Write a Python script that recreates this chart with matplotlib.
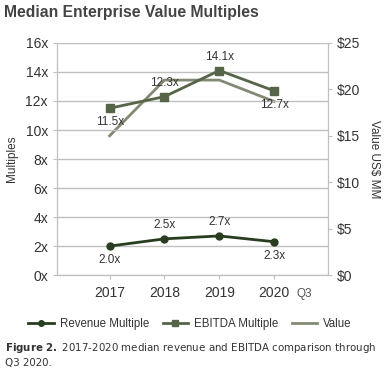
import matplotlib.pyplot as plt
from matplotlib.ticker import FuncFormatter

plt.rcParams["font.family"] = ["Liberation Sans", "DejaVu Sans"]

years = ["2017", "2018", "2019", "2020"]
revenue_multiple = [2.0, 2.5, 2.7, 2.3]
ebitda_multiple = [11.5, 12.3, 14.1, 12.7]
value_mm = [15.0, 21.0, 21.0, 18.7]
revenue_pos = ["below", "above", "above", "below"]
ebitda_pos = ["below", "above", "above", "below"]

c_rev = "#283d20"
c_ebitda = "#566447"
c_value = "#828a74"
c_text = "#333333"
c_grid = "#c0c0c0"

fig = plt.figure(figsize=(3.9, 3.8), dpi=100)
ax = fig.add_axes([0.146, 0.276, 0.695, 0.611])
ax2 = ax.twinx()

x = list(range(len(years)))
ax.plot(x, revenue_multiple, color=c_rev, marker="o", markersize=5, lw=2, zorder=4)
ax.plot(x, ebitda_multiple, color=c_ebitda, marker="s", markersize=6, lw=2, zorder=4)
ax2.plot(x, value_mm, color=c_value, lw=2)
ax.set_zorder(ax2.get_zorder() + 1)
ax.patch.set_visible(False)

for series, pos in ((revenue_multiple, revenue_pos), (ebitda_multiple, ebitda_pos)):
    for xi, v, p in zip(x, series, pos):
        dy = 10 if p == "above" else -10
        ax.annotate(f"{v:.1f}x", (xi, v), xytext=(0, dy), textcoords="offset points",
                    ha="center", va="center", fontsize=8.5, color=c_text)

ax.set_xlim(-0.96, 3.98)
ax.set_ylim(0, 16)
ax.set_yticks(range(0, 17, 2))
ax.yaxis.set_major_formatter(FuncFormatter(lambda v, _: f"{v:.0f}x"))
ax2.set_ylim(0, 25)
ax2.set_yticks(range(0, 26, 5))
ax2.yaxis.set_major_formatter(FuncFormatter(lambda v, _: f"${v:.0f}"))
ax.set_xticks(x)
ax.set_xticklabels(years)

ax.grid(axis="y", color=c_grid, lw=1)
ax.set_axisbelow(True)
for a in (ax, ax2):
    for s in a.spines.values():
        s.set_color(c_grid)
    a.spines["top"].set_visible(False)
    a.tick_params(colors=c_grid, labelcolor=c_text, labelsize=10, length=3)
ax.tick_params(axis="x", labelsize=10, pad=5)

# "Q3" suffix on the last category label
ax.annotate("Q3", (3, 0), xycoords=("data", "axes fraction"), xytext=(16, -15.5),
            textcoords="offset points", ha="left", va="baseline", fontsize=8.5, color="#555555")

ax.set_ylabel("Multiples", fontsize=8.5, color=c_text, labelpad=5)
ax2.set_ylabel("Value US$ MM", fontsize=8.5, color=c_text, rotation=270, labelpad=14)

fig.text(0.01, 0.968, "Median Enterprise Value Multiples", fontsize=11.3, fontweight="bold",
         color="#444444", va="center", ha="left")

handles = [
    plt.Line2D([0], [0], color=c_rev, marker="o", markersize=4, lw=2),
    plt.Line2D([0], [0], color=c_ebitda, marker="s", markersize=4, lw=2),
    plt.Line2D([0], [0], color=c_value, lw=2),
]
fig.legend(handles, ["Revenue Multiple", "EBITDA Multiple", "Value"], loc="center",
           bbox_to_anchor=(0.487, 0.147), ncol=3, frameon=False, fontsize=8.3,
           handlelength=2.2, handletextpad=0.5, columnspacing=1.2, labelcolor=c_text)

fig.text(0.013, 0.085, r"$\bf{Figure\ 2.}$ 2017-2020 median revenue and EBITDA comparison through",
         fontsize=7.4, color=c_text, va="center", ha="left", family="DejaVu Sans")
fig.text(0.013, 0.045, "Q3 2020.", fontsize=7.4, color=c_text, va="center", ha="left",
         family="DejaVu Sans")

fig.savefig("out.png", dpi=100)
